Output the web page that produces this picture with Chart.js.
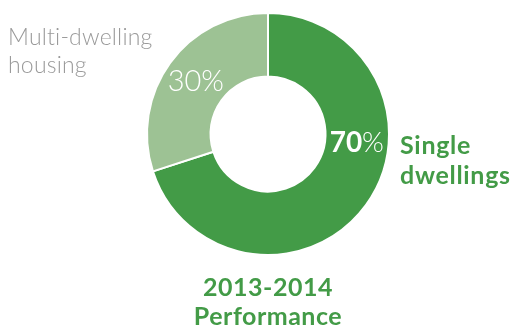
<!DOCTYPE html>
<html>
<head>
<meta charset="utf-8">
<script src="https://cdn.jsdelivr.net/npm/chart.js@4/dist/chart.umd.min.js"></script>
<style>
  html, body { margin: 0; padding: 0; background: #fff; }
  #wrap { position: relative; width: 515px; height: 329px; overflow: hidden; }
  #c { position: absolute; left: 0; top: 0; }
  .lbl { position: absolute; white-space: nowrap; font-family: Lato, "Open Sans", sans-serif; }
  #multi { left: 8px; top: 22px; color: #9a9a9a; font-weight: 300; font-size: 23px; line-height: 28px; letter-spacing: 0.2px; }
  #single { left: 400px; top: 129px; color: #439b47; font-weight: 700; font-size: 25px; line-height: 30px; letter-spacing: 0.7px; }
  #perf { left: 168px; width: 200px; top: 272px; text-align: center; color: #439b47; font-weight: 700; font-size: 25px; line-height: 29px; letter-spacing: 0.5px; }
</style>
</head>
<body>
<div id="wrap">
  <canvas id="c" width="515" height="329"></canvas>
  <div class="lbl" id="multi">Multi-dwelling<br>housing</div>
  <div class="lbl" id="single">Single<br>dwellings</div>
  <div class="lbl" id="perf">2013-2014<br>Performance</div>
</div>
<script>
const categories = ["Single dwellings", "Multi-dwelling housing"];
const shares = [70, 30];
const percentLabels = ["70", "30"];
const sliceColors = ["#439b47", "#9dc294"];

const pctPlugin = {
  id: 'pct',
  afterDatasetsDraw(chart) {
    const ctx = chart.ctx;
    const arcs = chart.getDatasetMeta(0).data;
    ctx.save();
    ctx.fillStyle = '#ffffff';
    ctx.textBaseline = 'middle';
    {
      const a = arcs[1];
      const mid = (a.startAngle + a.endAngle) / 2;
      const r = (a.innerRadius + a.outerRadius) / 2;
      const x = a.x + Math.cos(mid) * r;
      const y = a.y + Math.sin(mid) * r;
      ctx.font = '300 29px Lato';
      ctx.textAlign = 'center';
      ctx.fillText(percentLabels[1] + '%', x, y);
    }
    {
      const a = arcs[0];
      const ang = 0.1;
      const r = (a.innerRadius + a.outerRadius) / 2;
      const x = a.x + Math.cos(ang) * r;
      const y = a.y + Math.sin(ang) * r;
      ctx.font = '700 28px Lato';
      const w1 = ctx.measureText(percentLabels[0]).width;
      ctx.font = '300 28px Lato';
      const w2 = ctx.measureText('%').width;
      const x0 = x - (w1 + w2) / 2;
      ctx.textAlign = 'left';
      ctx.font = '700 28px Lato';
      ctx.fillText(percentLabels[0], x0, y);
      ctx.font = '300 28px Lato';
      ctx.fillText('%', x0 + w1, y);
    }
    ctx.restore();
  }
};

new Chart(document.getElementById('c'), {
  type: 'doughnut',
  data: {
    labels: categories,
    datasets: [{
      data: shares,
      backgroundColor: sliceColors,
      borderColor: '#ffffff',
      borderWidth: 2,
      hoverOffset: 0
    }]
  },
  options: {
    responsive: false,
    animation: false,
    cutout: '47.5%',
    layout: { padding: { left: 146, right: 125, top: 12, bottom: 73 } },
    plugins: { legend: { display: false }, tooltip: { enabled: false } },
    events: []
  },
  plugins: [pctPlugin]
});
</script>
</body>
</html>
